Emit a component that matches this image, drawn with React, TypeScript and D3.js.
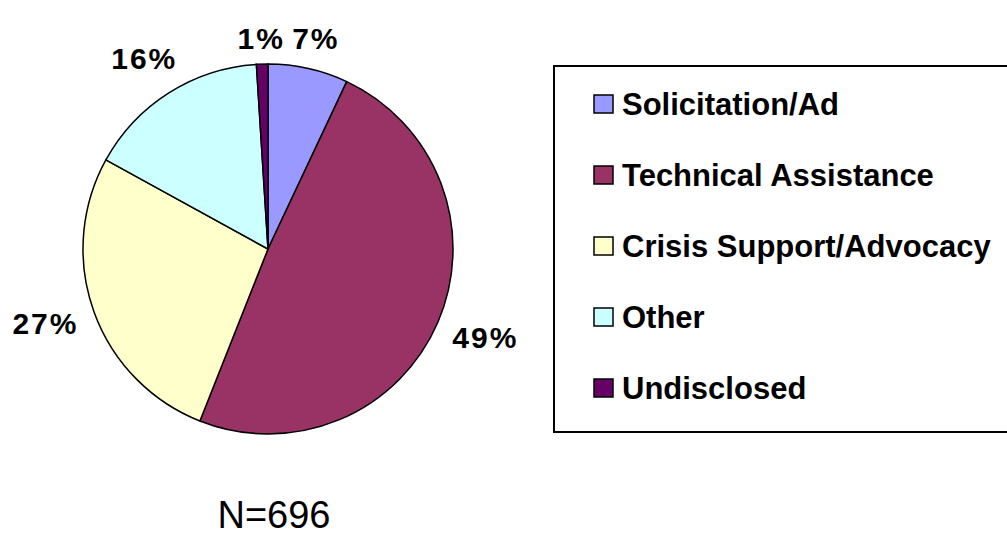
import React from "react";
import * as d3 from "d3";

const categories = ["Solicitation/Ad", "Technical Assistance", "Crisis Support/Advocacy", "Other", "Undisclosed"];
const percents = [7, 49, 27, 16, 1];
const colors = ["#9999FF", "#993366", "#FFFFCC", "#CCFFFF", "#660066"];
const footnote = "N=696";

const W = 1007;
const H = 538;
const cx = 268;
const cy = 249;
const R = 185;

export default function App() {
  const pie = d3.pie<number>().sort(null).value((d) => d)(percents);
  const arc = d3.arc<d3.PieArcDatum<number>>().innerRadius(0).outerRadius(R);

  const legendX = 554;
  const legendY = 66;
  const legendH = 366;
  const rowY = d3.scaleLinear().domain([0, categories.length - 1]).range([104, 388]);

  const fontFamily = "'Liberation Sans', Arial, sans-serif";

  return (
    <svg
      width={W}
      height={H}
      style={{ position: "absolute", left: 0, top: 0, background: "#fff" }}
    >
      <g transform={`translate(${cx},${cy})`}>
        {pie.map((p, i) => (
          <path key={i} d={arc(p) || ""} fill={colors[i]} stroke="#000" strokeWidth={1.5} strokeLinejoin="round" />
        ))}
        {pie.map((p, i) => {
          const a = (p.startAngle + p.endAngle) / 2;
          const s = Math.sin(a);
          const c = Math.cos(a);
          const label = `${percents[i]}%`;
          const halfW = label.length * 11;
          const halfH = 11;
          const r = 203 + halfW * Math.abs(s) * 0.9 + halfH * Math.abs(c) + 6 * Math.abs(s * c);
          const x = r * s;
          const y = -r * c + 6 * Math.abs(s) * (c < 0 ? -1 : 0) + (c > 0 ? 4 : 0);
          return (
            <text
              key={"l" + i}
              x={x}
              y={y}
              textAnchor="middle"
              dominantBaseline="central"
              fontFamily={fontFamily}
              fontWeight="bold"
              fontSize={30}
              letterSpacing={2}
              fill="#000"
            >
              {label}
            </text>
          );
        })}
      </g>

      <rect x={legendX} y={legendY} width={W - legendX + 10} height={legendH} fill="#fff" stroke="#000" strokeWidth={2} />
      {categories.map((c, i) => (
        <g key={c} transform={`translate(0,${rowY(i)})`}>
          <rect x={594} y={-9} width={19} height={18} fill={colors[i]} stroke="#000" strokeWidth={1.5} />
          <text
            x={622}
            y={0}
            dominantBaseline="central"
            fontFamily={fontFamily}
            fontWeight="bold"
            fontSize={31}
            fill="#000"
          >
            {c}
          </text>
        </g>
      ))}

      <text x={274} y={528} textAnchor="middle" fontFamily={fontFamily} fontSize={38} fill="#000">
        {footnote}
      </text>
    </svg>
  );
}
